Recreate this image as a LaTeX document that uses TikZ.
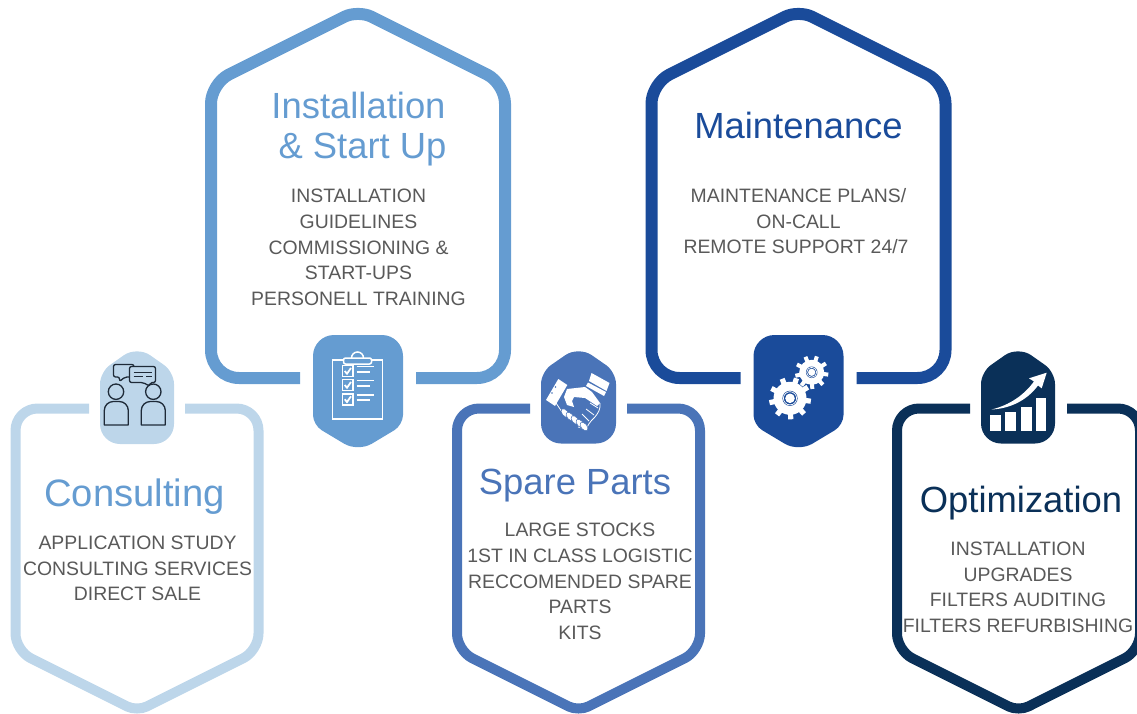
\documentclass[tikz,border=0pt]{standalone}
\usepackage{fontspec}
\setmainfont{Liberation Sans}
\definecolor{cLight}{HTML}{BDD6EA}
\definecolor{cSky}{HTML}{659CD1}
\definecolor{cMid}{HTML}{4A74B8}
\definecolor{cDeep}{HTML}{1A4B9A}
\definecolor{cNavy}{HTML}{0A3058}
\definecolor{cBody}{HTML}{595959}
\definecolor{cInk}{HTML}{1E2A38}
% open card outline: cx, half width, apex vertex y, shoulder y, flat y, half gap, r apex, r shoulder, r flat
\newcommand\cardpath[9]{%
  (#1-#6,#5) [rounded corners=#9] -- (#1-#2,#5) [rounded corners=#8] -- (#1-#2,#4) [rounded corners=#7] -- (#1,#3) [rounded corners=#8] -- (#1+#2,#4) [rounded corners=#9] -- (#1+#2,#5) -- (#1+#6,#5)}
% closed badge: cx, half width, apex y, shoulder y, flat y, r apex, r shoulder, r flat
\newcommand\badgepath[8]{%
  (#1,#5) [rounded corners=#8] -- (#1-#2,#5) [rounded corners=#7] -- (#1-#2,#4) [rounded corners=#6] -- (#1,#3) [rounded corners=#7] -- (#1+#2,#4) [rounded corners=#8] -- (#1+#2,#5) -- (#1,#5)}
\newcommand\gearshape[7]{% cx cy rbody rtip teeth toothwidth colour
  \fill[white] (#1,#2) circle[radius=#3];
  \foreach \k in {1,...,#5}{
    \draw[white,line width=#6] (#1,#2) ++({\k*360/#5+8}:#3-1) -- ++({\k*360/#5+8}:#4-#3+1);
  }
  \fill[#7] (#1,#2) circle[radius=#3*0.46];
  \draw[white,line width=0.7] (#1,#2) circle[radius=#3*0.40];
  \fill[white] (#1,#2) circle[radius=#3*0.29];
}
\tikzset{
  x=1pt,y=-1pt,
  cardline/.style={line width=#1,line cap=butt,line join=round},
  titletext/.style={align=center,font=\fontsize{36.4}{40}\selectfont,inner sep=0pt},
  bodytext/.style={align=center,text=cBody,font=\fontsize{19.4}{25.7}\selectfont,inner sep=0pt},
  iconline/.style={white,line width=1.5,line cap=butt},
  inkline/.style={cInk,line width=1.3,line join=round},
}
\begin{document}
\begin{tikzpicture}
\useasboundingbox (0,0) rectangle (1137,714);
\clip (0,0) rectangle (1137,714);
% cards
\draw[cSky,cardline=12] \cardpath{358}{147}{10}{83.5}{378}{58}{15}{20}{28};
\draw[cDeep,cardline=12] \cardpath{798.5}{147}{10}{83.5}{378}{58}{15}{20}{28};
\draw[cLight,cardline=10] \cardpath{137}{121.5}{711.4}{650.6}{408.5}{48}{11}{17}{22};
\draw[cMid,cardline=10] \cardpath{578.5}{121.5}{711.4}{650.6}{408.5}{48.5}{11}{17}{22};
\draw[cNavy,cardline=10] \cardpath{1018.5}{121.5}{711.4}{650.6}{408.5}{48.5}{11}{17}{22};
% badges
\fill[cLight] \badgepath{137}{37}{346}{372}{444}{16}{12}{20};
\fill[cMid] \badgepath{578.5}{37.5}{346}{372}{443.5}{16}{12}{20};
\fill[cNavy] \badgepath{1018}{37}{346}{372}{443.5}{16}{12}{20};
\fill[cSky] \badgepath{358}{45}{452}{425}{335}{16}{10}{21};
\fill[cDeep] \badgepath{798.5}{45}{452}{425}{335}{16}{10}{21};
% titles
\node[titletext,text=cSky] (t1) at (358.5,129) {Installation\\\hspace*{8pt}\& Start Up};
\node[titletext,text=cDeep] (t2) at (798.5,125.5) {Maintenance};
\node[titletext,text=cSky] (t3) at (134.5,497) {\fontsize{38.2}{40}\selectfont Consulting};
\node[titletext,text=cMid] (t4) at (575,485.5) {Spare Parts};
\node[titletext,text=cNavy] (t5) at (1021,503) {Optimization};
% bodies
\node[bodytext] (b1) at (358.5,247.4) {INSTALLATION\\GUIDELINES\\COMMISSIONING \&\\START-UPS\\PERSONELL TRAINING};
\node[bodytext] (b2) at (796,221.3) {\hspace*{5pt}MAINTENANCE PLANS/\\\hspace*{5pt}ON-CALL\\REMOTE SUPPORT 24/7};
\node[bodytext] (b3) at (137.5,568.4) {APPLICATION STUDY\\CONSULTING SERVICES\\DIRECT SALE};
\node[bodytext] (b4) at (580,581.4) {LARGE STOCKS\\1ST IN CLASS LOGISTIC\\RECCOMENDED SPARE\\PARTS\\KITS};
\node[bodytext] (b5) at (1018,587.3) {INSTALLATION\\UPGRADES\\FILTERS AUDITING\\FILTERS REFURBISHING};
% --- people icon
\draw[inkline] (116,391.7) circle[radius=7.7];
\draw[inkline] (153.3,391.7) circle[radius=7.7];
\draw[inkline,rounded corners=9] (104.3,425) -- (104.3,401.5) -- (128.3,401.5) [sharp corners] -- (128.3,425) -- cycle;
\draw[inkline,rounded corners=9] (141.3,425) -- (141.3,401.5) -- (165.3,401.5) [sharp corners] -- (165.3,425) -- cycle;
\draw[inkline,rounded corners=2] (113.5,364.5) -- (134,364.5) -- (134,377) -- (125,377) -- (119.5,381.5) -- (119.5,377) -- (113.5,377) -- cycle;
\filldraw[inkline,fill=cLight,rounded corners=2] (129.5,366.5) -- (155.5,366.5) -- (155.5,382.5) -- (150,382.5) -- (149.5,386) -- (143,382.5) -- (129.5,382.5) -- cycle;
\draw[inkline,line width=1] (133.5,372.5) -- (151.5,372.5) (133.5,376.5) -- (143,376.5) (146,376.5) -- (151.5,376.5);
% --- clipboard icon
\draw[white,line width=1.5] (332.5,360) rectangle (382.7,419);
\draw[white,line width=1.5] (351.5,358) arc[start angle=180,end angle=360,radius=6];
\filldraw[white,line width=1.5,fill=cSky,rounded corners=2] (343.5,358) rectangle (371.5,364);
\foreach \yy in {371,385,399.3}{
  \draw[white,line width=1.5] (342.3,\yy-5.5) rectangle (353,\yy+5.5);
  \draw[white,line width=1.8] (344.7,\yy) -- (347,\yy+2.7) -- (351,\yy-3);
  \draw[iconline] (356.7,\yy-4.5) -- (373.5,\yy-4.5);
  \draw[iconline] (356.7,\yy+.8) -- (370.3,\yy+.8);
}
% --- handshake icon
\fill[white] (546,400) -- (558.3,379) -- (567.3,385) -- (555,406) -- cycle;
\fill[cMid] (552,393) circle[radius=.9] (555.5,387) circle[radius=.9];
\fill[white] (589,381) -- (591.5,373) -- (609.5,383) -- (606.5,391) -- cycle;
\fill[white] (586,386) -- (588,382.5) -- (606,392) -- (604,396) -- cycle;
\fill[white] (567,389) -- (585,387) -- (592,392) -- (600,403) -- (597,406) -- (585,398) -- (574,397) -- (572,401) -- (574,407) -- (567,405) -- (564,397) -- cycle;
\draw[white,line width=.8,rounded corners=2] (600,403) -- (600,409) -- (596,416) -- (590,422) -- (586,429) -- (578,427);
\draw[white,line width=.8] (598,408) -- (590,403) (594,415) -- (586,409) (589,421) -- (582,414);
\draw[white,line width=.8] (556,403) -- (562,412);
\foreach \px/\py in {565/413,570/416.5,575/420,580/423.5,584/426.5}{
  \fill[white,rotate around={40:(\px,\py)}] (\px,\py) ellipse[x radius=3,y radius=5];
  \draw[cMid,line width=.5,rotate around={40:(\px,\py)}] (\px,\py) ellipse[x radius=3,y radius=5];
}
% --- gears icon
\gearshape{790}{398.3}{16.5}{21}{9}{5.2}{cDeep}
\gearshape{811.7}{372.3}{12.5}{16.7}{9}{4}{cDeep}
% --- chart icon
\fill[white] (990,415) rectangle (1001,431);
\fill[white] (1005.3,412.3) rectangle (1016.3,431);
\fill[white] (1020.7,407.3) rectangle (1031.7,431);
\fill[white] (1036,397.7) rectangle (1046,431);
\fill[white] (991.5,409.5) .. controls (1010,405) and (1024,395) .. (1034,381.5) -- (1029,378.3) -- (1046.7,372.7) -- (1041.7,388.3) -- (1038,385.5) .. controls (1028,399) and (1012,408.5) .. (991.5,409.5) -- cycle;
\end{tikzpicture}
\end{document}
